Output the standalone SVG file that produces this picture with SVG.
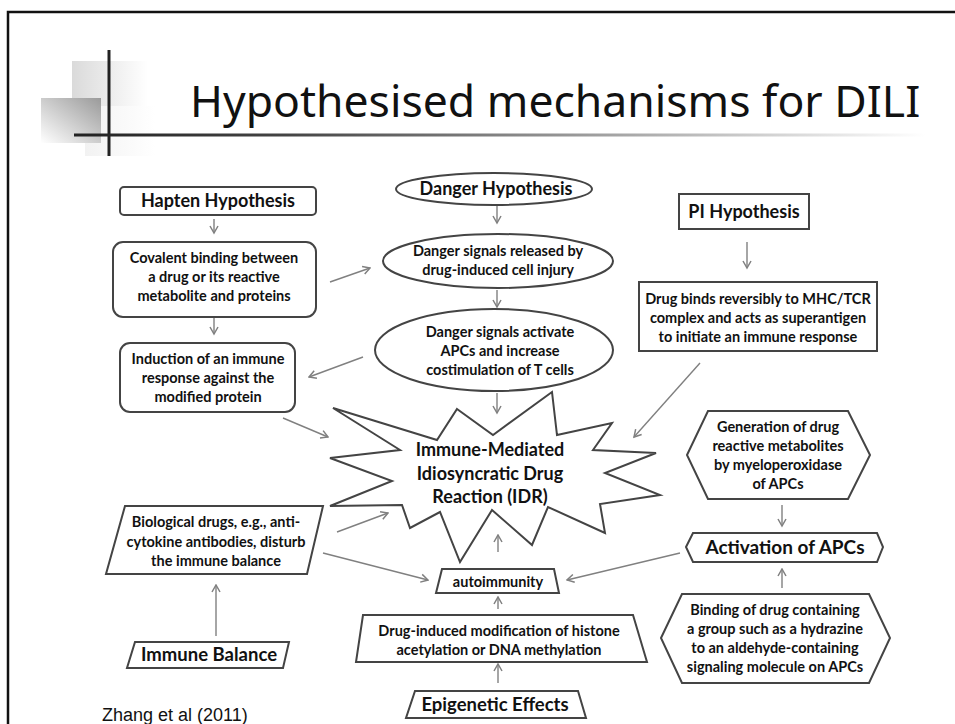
<svg xmlns="http://www.w3.org/2000/svg" width="955" height="724" viewBox="0 0 955 724">
<defs>
<linearGradient id="gLight" x1="0" y1="0" x2="1" y2="0"><stop offset="0" stop-color="#dadada"/><stop offset="1" stop-color="#ffffff"/></linearGradient>
<linearGradient id="gDark" x1="0" y1="1" x2="1" y2="0"><stop offset="0" stop-color="#ffffff"/><stop offset="1" stop-color="#9a9a9a"/></linearGradient>
<linearGradient id="gFaint" x1="0" y1="0" x2="1" y2="0"><stop offset="0" stop-color="#f2f2f2"/><stop offset="1" stop-color="#ffffff"/></linearGradient>
<linearGradient id="gLine" x1="74" y1="0" x2="925" y2="0" gradientUnits="userSpaceOnUse"><stop offset="0" stop-color="#222"/><stop offset="0.25" stop-color="#444"/><stop offset="1" stop-color="#ffffff"/></linearGradient>
<marker id="ah" markerWidth="10" markerHeight="10" refX="8.5" refY="5" orient="auto" markerUnits="userSpaceOnUse"><path d="M1.5,1 L8.5,5 L1.5,9" fill="none" stroke="#808080" stroke-width="1.5"/></marker>
</defs>
<style>
.box{fill:#fff;stroke:#444;stroke-width:2}
.t{font-family:Lato,"Open Sans","Liberation Sans",sans-serif;font-weight:bold;fill:#111;text-anchor:middle}
.s15{font-size:14.5px}
.s18{font-size:18px}
.c{fill:none;stroke:#808080;stroke-width:1.4;marker-end:url(#ah)}
</style>
<rect width="955" height="724" fill="#fff"/>
<path d="M8,724 V12 H955" fill="none" stroke="#111" stroke-width="2.5"/>
<g id="decor">
<rect x="85" y="106" width="70" height="50" fill="url(#gFaint)"/>
<rect x="72" y="61" width="76" height="45" fill="url(#gLight)"/>
<rect x="41" y="98" width="60" height="45" fill="url(#gDark)"/>
<line x1="109" y1="50" x2="109" y2="156" stroke="#222" stroke-width="3"/>
<line x1="74" y1="135" x2="925" y2="135" stroke="url(#gLine)" stroke-width="3"/>
</g>
<text x="190" y="117" font-family="'Noto Sans','DejaVu Sans',sans-serif" font-size="44.5" fill="#111">Hypothesised mechanisms for DILI</text>

<g id="connectors">
<line class="c" x1="214" y1="219" x2="214" y2="233"/>
<line class="c" x1="214" y1="318" x2="214" y2="334"/>
<line class="c" x1="330" y1="282" x2="370" y2="268"/>
<line class="c" x1="363" y1="357" x2="309" y2="377"/>
<line class="c" x1="497" y1="206" x2="497" y2="223"/>
<line class="c" x1="497" y1="290" x2="497" y2="307"/>
<line class="c" x1="497" y1="393" x2="497" y2="413"/>
<line class="c" x1="747" y1="242" x2="747" y2="268"/>
<line class="c" x1="700" y1="363" x2="634" y2="437"/>
<line class="c" x1="283" y1="418" x2="328" y2="437"/>
<line class="c" x1="337" y1="532" x2="388" y2="513"/>
<line class="c" x1="323" y1="553" x2="428" y2="580"/>
<line class="c" x1="680" y1="553" x2="567" y2="580"/>
<line class="c" x1="498" y1="552" x2="498" y2="535"/>
<line class="c" x1="498" y1="609" x2="498" y2="597"/>
<line class="c" x1="498" y1="683" x2="498" y2="664"/>
<line class="c" x1="782" y1="505" x2="782" y2="526"/>
<line class="c" x1="782" y1="588" x2="782" y2="569"/>
<line class="c" x1="216" y1="636" x2="216" y2="585"/>
</g>

<g id="hapten">
<rect class="box" x="120" y="187" width="196" height="28" rx="4"/>
<text class="t s18" x="218" y="207">Hapten Hypothesis</text>
</g>
<g id="covalent">
<rect class="box" x="113" y="242" width="203" height="75" rx="10"/>
<text class="t s15" x="214" y="263">Covalent binding between</text>
<text class="t s15" x="214" y="282">a drug or its reactive</text>
<text class="t s15" x="214" y="301">metabolite and proteins</text>
</g>
<g id="induction">
<rect class="box" x="120" y="343" width="175" height="69" rx="10"/>
<text class="t s15" x="208" y="364">Induction of an immune</text>
<text class="t s15" x="208" y="383">response against the</text>
<text class="t s15" x="208" y="402">modified protein</text>
</g>
<g id="danger">
<ellipse class="box" cx="494" cy="189" rx="98" ry="16"/>
<text class="t s18" x="496" y="195">Danger Hypothesis</text>
</g>
<g id="danger-released">
<ellipse class="box" cx="498" cy="261" rx="115" ry="27"/>
<text class="t s15" x="498" y="256">Danger signals released by</text>
<text class="t s15" x="498" y="275">drug-induced cell injury</text>
</g>
<g id="danger-activate">
<ellipse class="box" cx="494" cy="350" rx="119" ry="41"/>
<text class="t s15" x="500" y="337">Danger signals activate</text>
<text class="t s15" x="500" y="356">APCs and increase</text>
<text class="t s15" x="500" y="375">costimulation of T cells</text>
</g>
<g id="pi">
<rect class="box" x="679" y="194" width="130" height="35"/>
<text class="t s18" x="744" y="218">PI Hypothesis</text>
</g>
<g id="pi-binds">
<rect class="box" x="639" y="282" width="238" height="69"/>
<text class="t s15" x="758" y="304">Drug binds reversibly to MHC/TCR</text>
<text class="t s15" x="758" y="323">complex and acts as superantigen</text>
<text class="t s15" x="758" y="342">to initiate an immune response</text>
</g>
<g id="idr">
<polygon class="box" points="457,409 493,435 552,392 557,435 612,423 593,450 656,453 605,473 660,495 600,504 605,533 548,507 532,545 492,510 460,562 440,512 410,528 402,505 330,506 392,481 330,458 400,450 333,408 437,440"/>
<text class="t s18" x="490" y="456">Immune-Mediated</text>
<text class="t s18" x="490" y="480">Idiosyncratic Drug</text>
<text class="t s18" x="490" y="503">Reaction (IDR)</text>
</g>
<g id="generation">
<polygon class="box" points="687,455 708,411 848,411 870,455 848,499 708,499"/>
<text class="t s15" x="778" y="432">Generation of drug</text>
<text class="t s15" x="778" y="451">reactive metabolites</text>
<text class="t s15" x="778" y="470">by myeloperoxidase</text>
<text class="t s15" x="778" y="489">of APCs</text>
</g>
<g id="activation">
<polygon class="box" points="686,547 693,533 877,533 883,547 877,562 693,562"/>
<text class="t" x="785" y="554" font-size="19">Activation of APCs</text>
</g>
<g id="binding">
<polygon class="box" points="661,638 682,594 869,594 890,638 869,683 682,683"/>
<text class="t s15" x="775" y="615">Binding of drug containing</text>
<text class="t s15" x="775" y="634">a group such as a hydrazine</text>
<text class="t s15" x="775" y="653">to an aldehyde-containing</text>
<text class="t s15" x="775" y="672">signaling molecule on APCs</text>
</g>
<g id="biological">
<polygon class="box" points="125,506 323,506 307,574 106,574"/>
<text class="t s15" x="216" y="527">Biological drugs, e.g., anti-</text>
<text class="t s15" x="216" y="547">cytokine antibodies, disturb</text>
<text class="t s15" x="216" y="566">the immune balance</text>
</g>
<g id="immune-balance">
<polygon class="box" points="135,642 289,642 283,668 127,668"/>
<text class="t" x="209" y="661" font-size="18.5">Immune Balance</text>
</g>
<g id="autoimmunity">
<polygon class="box" points="442,569 554,569 559,593 436,593"/>
<text class="t s15" x="498" y="587">autoimmunity</text>
</g>
<g id="histone">
<polygon class="box" points="363,615 633,615 647,662 356,662"/>
<text class="t s15" x="499" y="636">Drug-induced modification of histone</text>
<text class="t s15" x="499" y="655">acetylation or DNA methylation</text>
</g>
<g id="epigenetic">
<polygon class="box" points="415,691 578,691 586,718 406,718"/>
<text class="t" x="495" y="711" font-size="18.5">Epigenetic Effects</text>
</g>
<text x="102" y="721" font-family="'Liberation Sans',Arial,sans-serif" font-size="18" fill="#111">Zhang et al (2011)</text>
</svg>
